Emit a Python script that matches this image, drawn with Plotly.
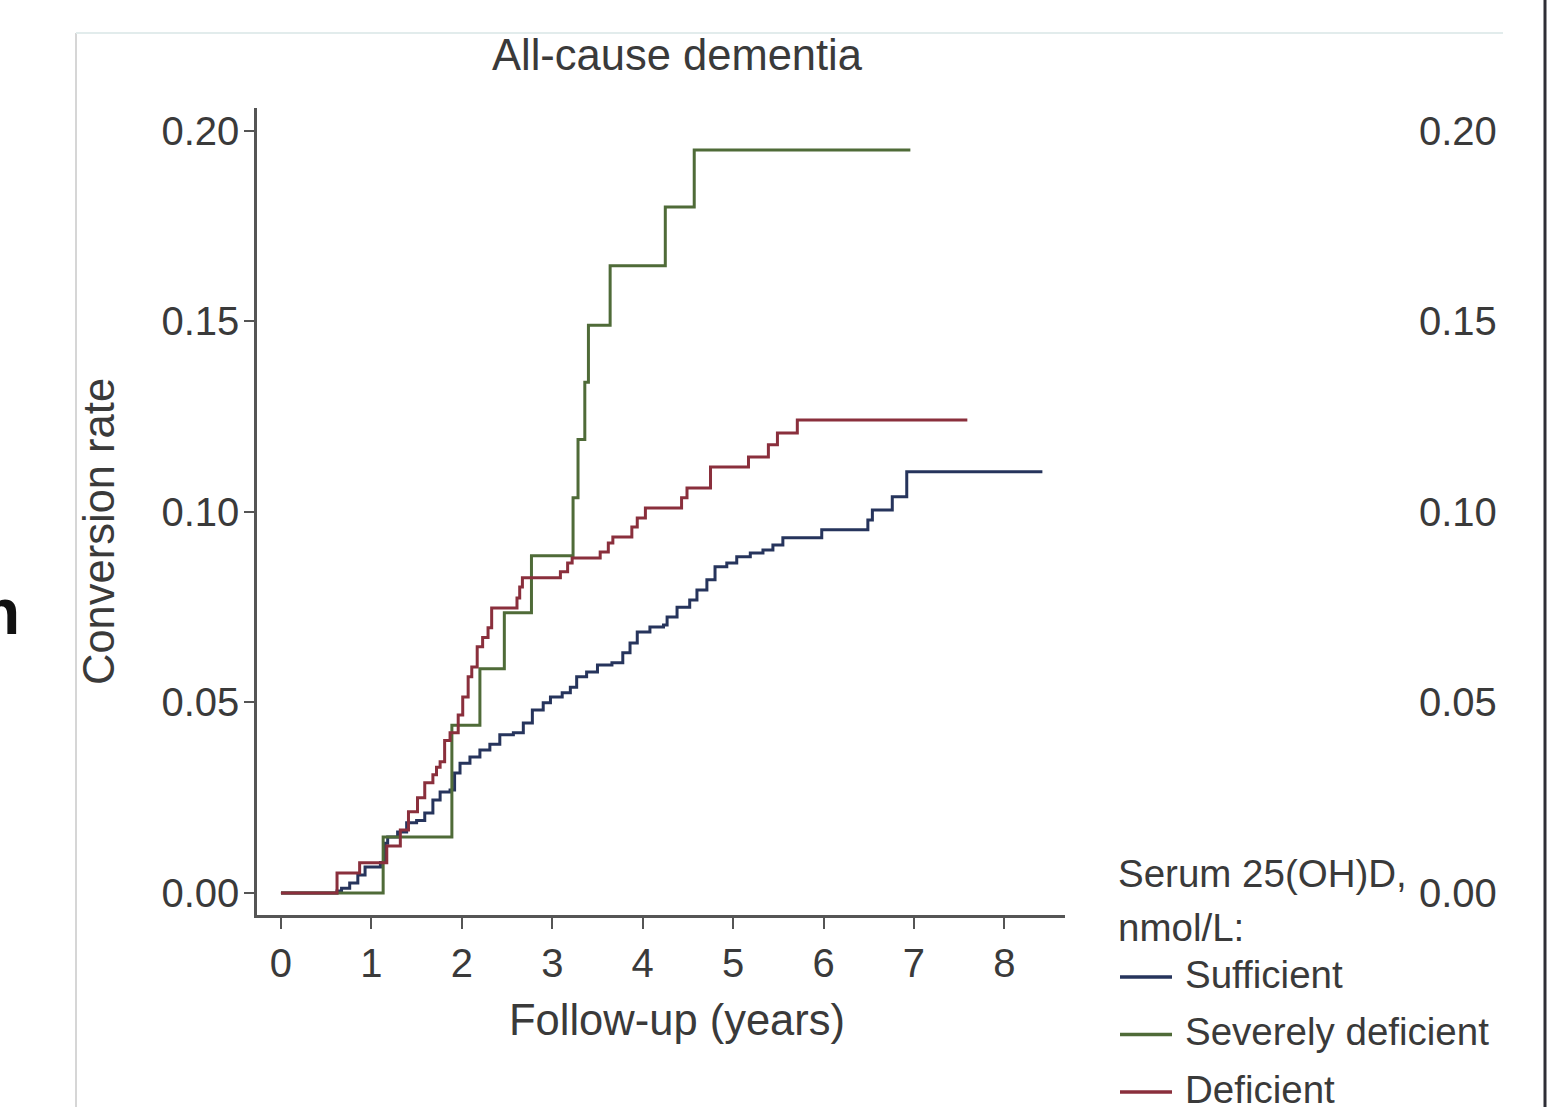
import plotly.graph_objects as go

# ---- data ----
suff_t = [0, 0.62, 0.67, 0.76, 0.85, 0.93, 1.10, 1.15, 1.18, 1.29, 1.39, 1.50, 1.59, 1.68, 1.76,
          1.87, 1.92, 1.98, 2.09, 2.20, 2.31, 2.42, 2.57, 2.68, 2.78, 2.90, 2.98, 3.11, 3.20,
          3.27, 3.38, 3.50, 3.66, 3.78, 3.86, 3.94, 4.08, 4.23, 4.27, 4.38, 4.52, 4.60, 4.71,
          4.80, 4.93, 5.04, 5.19, 5.33, 5.44, 5.55, 5.98, 6.49, 6.54, 6.76, 6.92, 8.42]
suff_v = [0, 0.0005, 0.0012, 0.0026, 0.0047, 0.0068, 0.0080, 0.0130, 0.0147, 0.0160, 0.0184,
          0.0190, 0.0210, 0.0244, 0.0265, 0.0270, 0.0315, 0.0340, 0.0357, 0.0375, 0.0390,
          0.0415, 0.0420, 0.0446, 0.0480, 0.0499, 0.0514, 0.0525, 0.0540, 0.0567, 0.0580,
          0.0598, 0.0604, 0.0630, 0.0656, 0.0685, 0.0698, 0.0703, 0.0724, 0.0750, 0.0769,
          0.0795, 0.0822, 0.0856, 0.0866, 0.0882, 0.0892, 0.0900, 0.0913, 0.0932, 0.0953,
          0.0979, 0.1005, 0.1040, 0.1105, 0.1105]

sev_t = [0, 1.13, 1.89, 2.20, 2.47, 2.77, 3.23, 3.285, 3.36, 3.40, 3.64, 4.25, 4.57, 6.96]
sev_v = [0, 0.0147, 0.0440, 0.0588, 0.0735, 0.0885, 0.1037, 0.1190, 0.1340, 0.1490,
         0.1646, 0.1800, 0.1950, 0.1950]

def_t = [0, 0.62, 0.87, 1.17, 1.32, 1.41, 1.51, 1.59, 1.68, 1.72, 1.76, 1.81, 1.87, 1.96,
         2.01, 2.07, 2.11, 2.17, 2.23, 2.29, 2.33, 2.61, 2.64, 2.67, 3.09, 3.17, 3.22, 3.53,
         3.62, 3.67, 3.88, 3.94, 4.03, 4.43, 4.49, 4.75, 5.17, 5.39, 5.49, 5.71, 7.59]
def_v = [0, 0.0052, 0.0079, 0.0123, 0.0165, 0.0213, 0.0250, 0.0289, 0.0310, 0.0330, 0.0344,
         0.0400, 0.0420, 0.0467, 0.0514, 0.0567, 0.0593, 0.0646, 0.0670, 0.0696, 0.0748,
         0.0774, 0.0803, 0.0827, 0.0843, 0.0866, 0.0879, 0.0895, 0.0918, 0.0934, 0.0960,
         0.0984, 0.1010, 0.1037, 0.1063, 0.1118, 0.1144, 0.1176, 0.1207, 0.1241, 0.1241]

x_ticks = [0, 1, 2, 3, 4, 5, 6, 7, 8]
y_ticks = [0.00, 0.05, 0.10, 0.15, 0.20]
y_tick_text = ["0.00", "0.05", "0.10", "0.15", "0.20"]

series_names = ["Sufficient", "Severely deficient", "Deficient"]
series_colors = ["#26345c", "#4f6b38", "#8a2f3c"]
series_t = [suff_t, sev_t, def_t]
series_v = [suff_v, sev_v, def_v]
legend_title = ["Serum 25(OH)D,", "nmol/L:"]

FONT = "Liberation Sans, Arial, sans-serif"
TXT = "#3a3a3a"
FS_TICK = 40
FS_TITLE = 43.5
FS_LEG = 38.5

fig = go.Figure()
for name, t, v, col in zip(series_names, series_t, series_v, series_colors):
    fig.add_trace(go.Scatter(x=t, y=v, mode="lines", name=name, line_shape="hv",
                             line=dict(color=col, width=3), showlegend=False))

# invisible trace for the right-hand axis
fig.add_trace(go.Scatter(x=[0], y=[0], yaxis="y2", mode="markers", opacity=0,
                         showlegend=False, hoverinfo="skip"))

L, R, T, B = 257, 1410, 108, 915
W = R - L
H = B - T


def px(x):
    return (x - L) / W


def py(y):
    return (B - y) / H


yr = [-0.0058, 0.206]

annotations = [
    dict(text="Conversion rate", textangle=-90, x=px(99), y=py(532), xref="paper",
         yref="paper", showarrow=False, xanchor="center", yanchor="middle",
         font=dict(size=FS_TITLE, color=TXT)),
    dict(text="Follow-up (years)", x=px(677), y=py(1020), xref="paper", yref="paper",
         showarrow=False, xanchor="center", yanchor="middle",
         font=dict(size=FS_TITLE, color=TXT)),
    dict(text="<b>n</b>", x=px(0), y=py(612), xref="paper", yref="paper",
         showarrow=False, xanchor="center", yanchor="middle",
         font=dict(size=64, color="#111")),
]
shapes = [
    dict(type="line", xref="paper", yref="paper", x0=px(76), x1=px(76), y0=py(33),
         y1=py(1110), line=dict(color="#d6d6d6", width=2)),
    dict(type="line", xref="paper", yref="paper", x0=px(76), x1=px(1503), y0=py(33),
         y1=py(33), line=dict(color="#e2ecec", width=2)),
    dict(type="line", xref="paper", yref="paper", x0=px(1545), x1=px(1545), y0=py(-5),
         y1=py(1110), line=dict(color="#2e2e36", width=3)),
]

# legend (drawn at the position used in the reference)
for k, line in enumerate(legend_title):
    annotations.append(dict(text=line, x=px(1116), y=py(873 + 54 * k), xref="paper",
                            yref="paper", showarrow=False, xanchor="left",
                            yanchor="middle", font=dict(size=FS_LEG, color=TXT)))
for k, (name, col) in enumerate(zip(series_names, series_colors)):
    yc = 977 + 57.5 * k
    shapes.append(dict(type="line", xref="paper", yref="paper", x0=px(1120), x1=px(1172),
                       y0=py(yc), y1=py(yc), line=dict(color=col, width=3.5)))
    annotations.append(dict(text=name, x=px(1183), y=py(yc - 3), xref="paper",
                            yref="paper", showarrow=False, xanchor="left",
                            yanchor="middle", font=dict(size=FS_LEG, color=TXT)))

fig.update_layout(
    width=1551, height=1107,
    margin=dict(l=L, r=1551 - R, t=T, b=1107 - B, pad=0),
    paper_bgcolor="white", plot_bgcolor="white",
    font=dict(family=FONT, size=FS_TICK, color=TXT),
    title=dict(text="All-cause dementia", x=677 / 1551, xanchor="center",
               y=1 - 55 / 1107, yanchor="middle", yref="container",
               font=dict(size=FS_TITLE, color=TXT)),
    xaxis=dict(domain=[0, (1065 - L) / W], range=[-0.265, 8.67],
               tickvals=x_ticks, ticks="outside", ticklen=11, tickwidth=2,
               tickcolor="#555", showline=True, linecolor="#555", linewidth=2.5,
               showgrid=False, zeroline=False, tickfont=dict(size=FS_TICK, color=TXT)),
    yaxis=dict(range=yr, tickvals=y_ticks, ticktext=y_tick_text, ticks="outside",
               ticklen=10, tickwidth=2, tickcolor="#555", showline=True, linecolor="#555",
               linewidth=2.5, showgrid=False, zeroline=False, ticklabelstandoff=-3,
               tickfont=dict(size=FS_TICK, color=TXT)),
    yaxis2=dict(range=yr, overlaying="y", side="right", anchor="free", position=1,
                tickvals=y_ticks, ticktext=y_tick_text, ticks="", showline=False,
                showgrid=False, zeroline=False, ticklabelstandoff=8,
                tickfont=dict(size=FS_TICK, color=TXT)),
    showlegend=False,
    annotations=annotations,
    shapes=shapes,
)

fig.write_html("out.html")
